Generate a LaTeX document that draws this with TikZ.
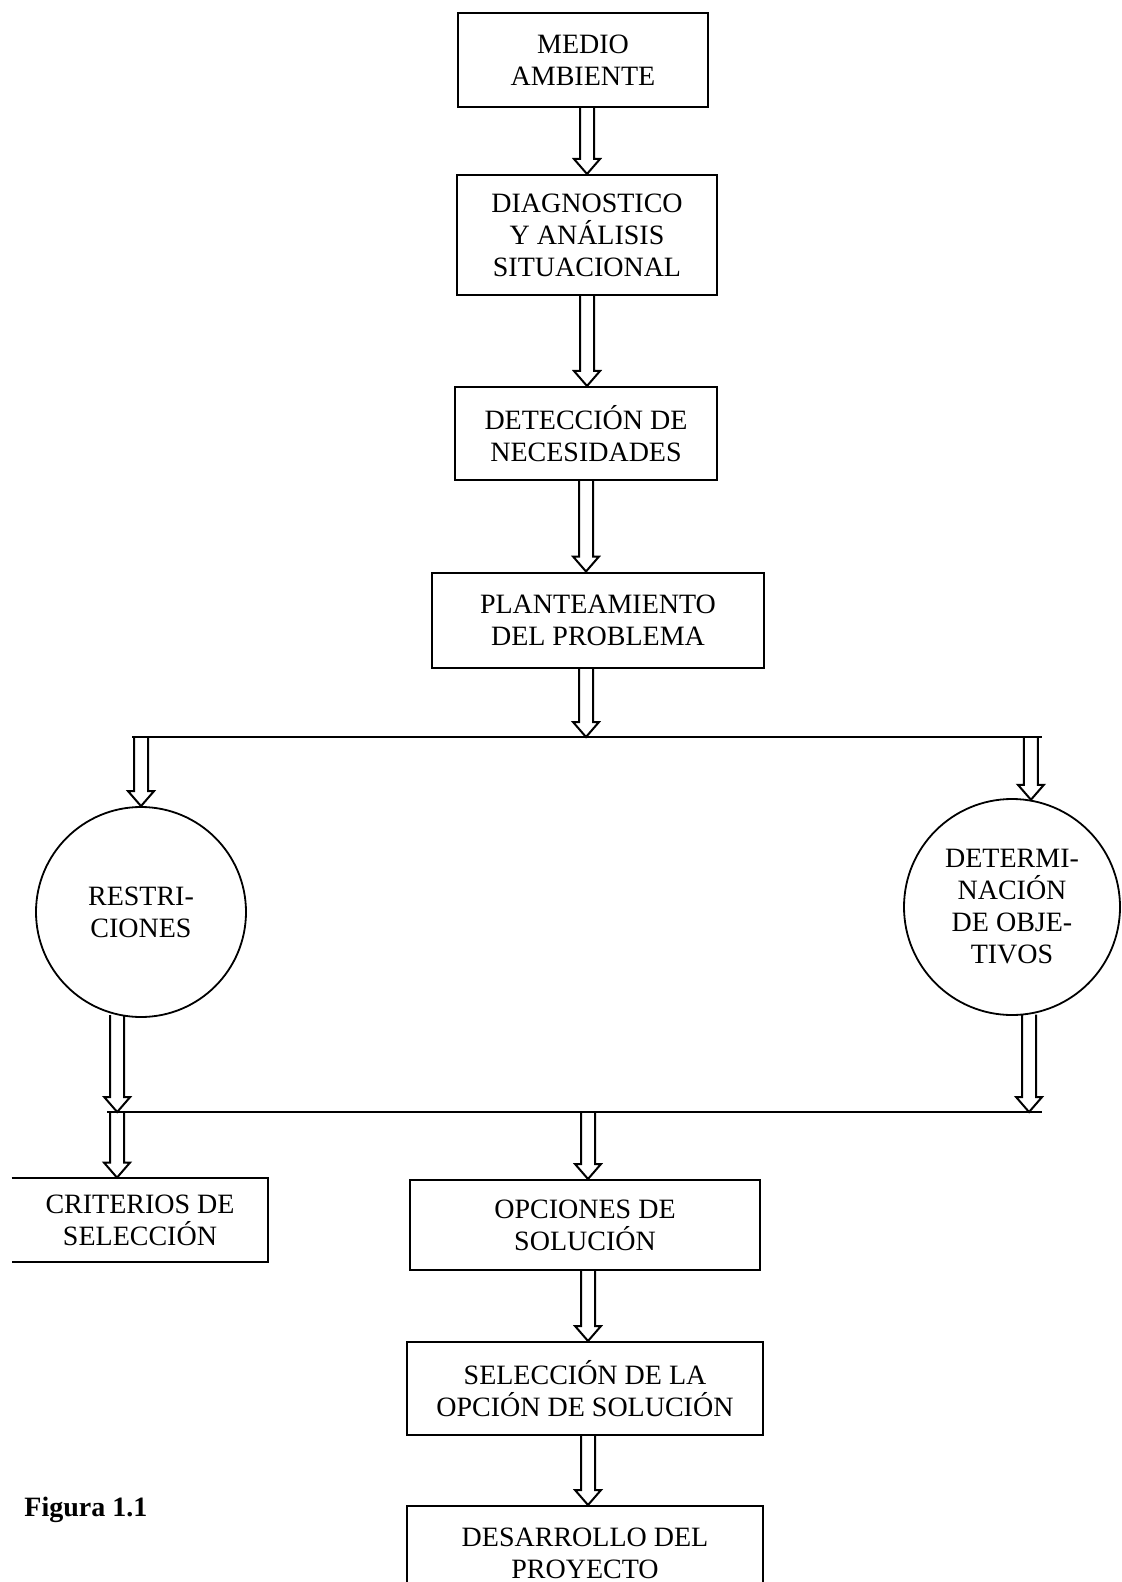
\documentclass[tikz,border=0pt]{standalone}
\usepackage{fontspec}
\setmainfont{Liberation Serif}
\usetikzlibrary{calc}
\newcommand{\fs}{\fontsize{14}{16}\selectfont}
\tikzset{
  box/.style={draw, line width=1pt, align=center, inner sep=0pt, font=\fs},
  circnode/.style={draw, circle, line width=0.9pt, inner sep=0pt, align=center, font=\fs},
  hline/.style={line width=0.9pt},
  fat/.style={line width=1pt, line join=miter, to path={
    let \p1=(\tikztostart), \p2=(\tikztotarget) in
    (\x1-3.5pt,\y1) -- (\x1-3.5pt,\y2+7.5pt) -- (\x1-6.5pt,\y2+7.5pt) -- (\x1,\y2)
    -- (\x1+6.5pt,\y2+7.5pt) -- (\x1+3.5pt,\y2+7.5pt) -- (\x1+3.5pt,\y1)}}
}
\begin{document}
\begin{tikzpicture}[x=0.5pt, y=-0.5pt]
\useasboundingbox (0,0) rectangle (1122,1582);
% boxes
\node[box, minimum width=125pt, minimum height=47pt] (medio) at (583,60) {MEDIO\\AMBIENTE};
\node[box, minimum width=130pt, minimum height=60pt] (diag) at (587,235) {DIAGNOSTICO\\Y ANÁLISIS\\SITUACIONAL};
\node[box, minimum width=131pt, minimum height=46.5pt] (detec) at (586,433.5) {DETECCIÓN DE\\NECESIDADES};
\node[box, minimum width=166pt, minimum height=47.5pt] (plant) at (598,620) {PLANTEAMIENTO\\DEL PROBLEMA};
% circles
\node[circnode, minimum size=105pt] (rc) at (141,912) {RESTRI-\\CIONES};
\node[circnode, minimum size=108pt] (dc) at (1012,907) {DETERMI-\\NACIÓN\\DE OBJE-\\TIVOS};
% lower boxes
\node[align=center, inner sep=0pt, font=\fs, minimum width=128pt, minimum height=42pt] (crit) at (140,1220) {CRITERIOS DE\\SELECCIÓN};
\draw[line width=1pt] (crit.north west) -- (crit.north east) -- (crit.south east) -- (crit.south west);
\node[box, minimum width=175pt, minimum height=45pt] (opc) at (585,1225) {OPCIONES DE\\SOLUCIÓN};
\node[box, minimum width=178pt, minimum height=46.5pt] (sel) at (585,1388.5) {SELECCIÓN DE LA\\OPCIÓN DE SOLUCIÓN};
\node[box, minimum width=178pt, minimum height=47pt] (des) at (585,1553) {DESARROLLO DEL\\PROYECTO};
\node[font=\fs\bfseries, anchor=west, inner sep=0pt] (fig) at (24,1510) {Figura 1.1};
% junction lines
\coordinate (l1L) at (132,737);
\coordinate (l1R) at (1042,737);
\coordinate (l1m) at (586,737);
\coordinate (l2L) at (107,1112);
\coordinate (l2R) at (1042,1112);
\coordinate (l2a) at (118,1112);
\coordinate (l2b) at (1029,1112);
\coordinate (l2m) at (588,1112);
\coordinate (l2c) at (117,1112);
\draw[hline] (l1L) -- (l1R);
\draw[hline] (l2L) -- (l2R);
% arrows
\draw[fat] (medio.south -| diag.north) to (diag.north);
\draw[fat] (diag.south) to (diag.south |- detec.north);
\draw[fat] (detec.south) to (detec.south |- plant.north);
\draw[fat] (plant.south -| l1m) to (l1m);
\draw[fat] (l1L -| rc.north) to (rc.north);
\draw[fat] (l1R -| dc.80) to (dc.80);
\draw[fat] (rc.257) to (l2a);
\draw[fat] (dc.279) to (l2b);
\draw[fat] (l2c) to (l2c |- crit.north);
\draw[fat] (l2m) to (l2m |- opc.north);
\draw[fat] (opc.south -| l2m) to (l2m |- sel.north);
\draw[fat] (sel.south -| l2m) to (l2m |- des.north);
\end{tikzpicture}
\end{document}
